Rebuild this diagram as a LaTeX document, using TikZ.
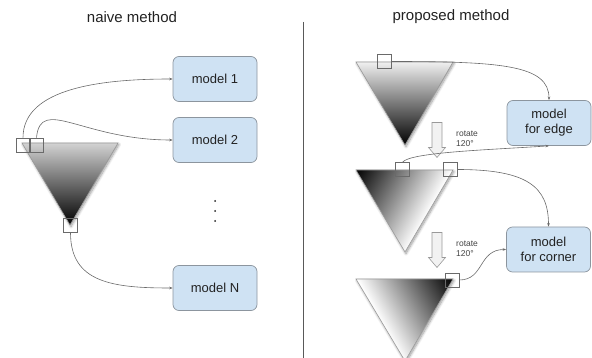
\documentclass[tikz,border=0pt]{standalone}
\usepackage{fontspec}
\setmainfont{Liberation Sans}
\usetikzlibrary{arrows.meta,shadows.blur}

\definecolor{boxfill}{HTML}{CFE2F3}
\definecolor{boxline}{HTML}{8C959E}
\definecolor{linegray}{HTML}{6A6A6A}
\definecolor{textdark}{HTML}{222222}

\tikzset{
  modelbox/.style={draw=boxline, fill=boxfill, rounded corners=6pt, line width=0.7pt,
    minimum width=84pt, minimum height=45pt, align=center, text=textdark,
    font=\fontsize{13}{15}\selectfont, inner sep=0pt},
  patch/.style={draw=linegray, line width=0.6pt, minimum size=14pt, inner sep=0pt},
  link/.style={draw=linegray, line width=0.6pt, -{Stealth[length=3.5pt,width=2.6pt]}},
  trishadow/.style={blur shadow={shadow xshift=1pt, shadow yshift=-1.5pt, shadow blur steps=8,
    shadow blur radius=2.5pt, shadow opacity=40}},
  triline/.style={draw=gray!80, line width=0.6pt},
  title/.style={font=\fontsize{15}{17}\selectfont, text=textdark},
  note/.style={font=\fontsize{8.5}{10}\selectfont, text=textdark!85, align=left, inner sep=0pt},
  blockarrow/.pic={
    \draw[draw=gray!80, fill=gray!10, line width=0.6pt]
      (-5,-17) -- (5,-17) -- (5,8) -- (8.5,8) -- (0,18) -- (-8.5,8) -- (-5,8) -- cycle;
  }
}

\begin{document}
\begin{tikzpicture}[x=1pt, y=-1pt]
  \useasboundingbox (0,0) rectangle (592,358);
  \clip (0,0) rectangle (592,358);

  % headings and divider
  \node[title] (tl) at (132,17) {naive method};
  \node[title] (tr) at (451,17) {proposed method};
  \draw[gray!70!black, line width=1pt] (303,22) -- (303,358);

  % ---------- naive method ----------
  \path[trishadow, triline, top color=gray!35, bottom color=black] (22,143) -- (118,143) -- (70,225) -- cycle;

  \node[modelbox] (m1) at (215,79) {model 1};
  \node[modelbox] (m2) at (215,140) {model 2};
  \node[modelbox] (mN) at (215,288) {model N};

  \foreach \yy in {201,211,221} \fill[textdark] (215,\yy) circle (1pt);

  \node[patch] (p1) at (23,145) {};
  \node[patch] (p2) at (36.5,145) {};
  \node[patch] (p3) at (70.5,225.5) {};

  \draw[link] (p1.north) .. controls +(0,-50) and +(-70,0) .. (m1.west);
  \draw[link] (p2.north) .. controls +(4,-42) and +(-90,0) .. (m2.west);
  \draw[link] (p3.south) .. controls +(0,50) and +(-60,0) .. (mN.west);

  % ---------- proposed method ----------
  % first triangle: dark corner at the bottom
  \path[trishadow, triline, top color=gray!12, bottom color=black] (356,62) -- (453,62) -- (405,145) -- cycle;

  % second triangle: dark corner turned to the upper left
  \fill[trishadow, white] (356,170) -- (453,170) -- (405,252) -- cycle;
  \begin{scope}
    \clip (356,170) -- (453,170) -- (405,252) -- cycle;
    \begin{scope}[transform canvas={shift={(356,170)}, rotate=60.7}]
      \shade[top color=black, bottom color=white] (-120,0) rectangle (120,84);
    \end{scope}
  \end{scope}
  \draw[triline] (356,170) -- (453,170) -- (405,252) -- cycle;

  % third triangle: dark corner turned to the upper right
  \fill[trishadow, white] (356,279) -- (453,279) -- (405,361) -- cycle;
  \begin{scope}
    \clip (356,279) -- (453,279) -- (405,361) -- cycle;
    \begin{scope}[transform canvas={shift={(453,279)}, rotate=-60.5}]
      \shade[top color=black, bottom color=white] (-120,0) rectangle (120,84);
    \end{scope}
  \end{scope}
  \draw[triline] (356,279) -- (453,279) -- (405,361) -- cycle;

  \node[modelbox] (me) at (549,123) {model\\for edge};
  \node[modelbox] (mc) at (548.5,249.5) {model\\for corner};

  \pic at (437,139.5) {blockarrow};
  \pic at (437,249.5) {blockarrow};
  \node[note, anchor=west] (r1) at (456,138.5) {rotate\\120°};
  \node[note, anchor=west] (r2) at (456,249) {rotate\\120°};

  \node[patch] (q1) at (384.5,61.5) {};
  \node[patch] (q2) at (402.5,169.5) {};
  \node[patch] (q3) at (450,169.5) {};
  \node[patch] (q4) at (452,280) {};

  \draw[link] (q1.east) .. controls +(110,0) and +(0,-35) .. (me.north);
  \draw[link] (q2.north) .. controls +(8,-10) and +(-60,4) .. (me.south);
  \draw[link] (q3.east) .. controls +(70,0) and +(0,-40) .. (mc.north);
  \draw[link] (q4.east) .. controls +(25,0) and +(-28,0) .. (mc.west);
\end{tikzpicture}
\end{document}
